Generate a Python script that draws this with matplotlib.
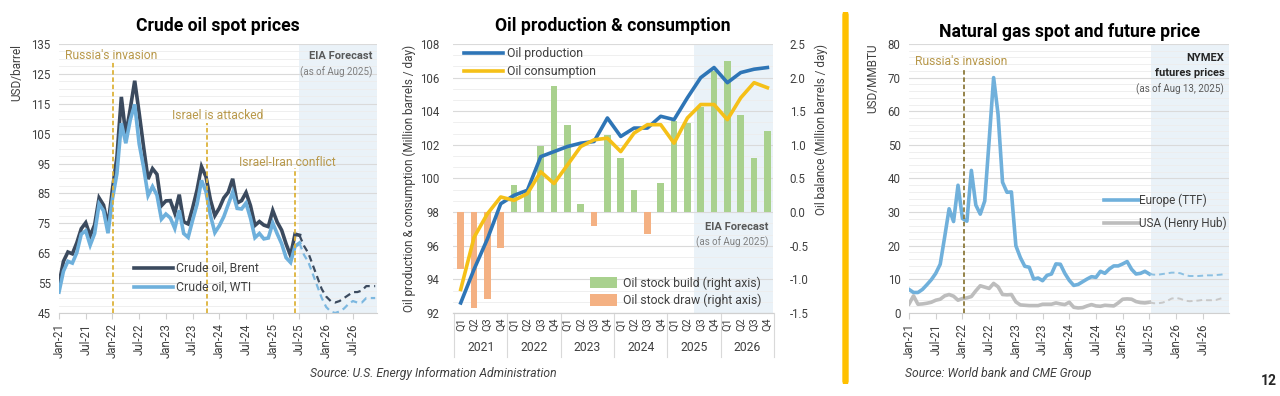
import numpy as np
import matplotlib
matplotlib.use("Agg")
import matplotlib.pyplot as plt
from matplotlib.patches import FancyBboxPatch
import matplotlib.transforms as mtransforms

plt.rcParams['font.family'] = ['Roboto', 'DejaVu Sans']
plt.rcParams['axes.unicode_minus'] = False

# ---------------- data ----------------
# monthly, Jan-21 .. Dec-26 (index 0..71), actual up to Jul-25 (index 54)
brent_actual = [54.8, 62.3, 65.4, 64.8, 68.5, 73.2, 75.2, 70.8, 74.5, 83.5, 81.1, 74.2,
                86.5, 97.1, 117.3, 104.6, 113.3, 122.7, 111.9, 100.5, 89.8, 93.3, 91.4, 80.9,
                82.5, 82.6, 78.4, 84.6, 75.5, 74.8, 80.1, 86.2, 94.0, 90.6, 82.9, 77.6,
                80.1, 83.5, 85.4, 89.9, 81.8, 82.6, 85.3, 80.9, 74.3, 75.6, 74.4, 73.9,
                79.3, 75.4, 72.7, 68.1, 64.2, 71.4, 71.0]
brent_forecast = [67.5, 65.0, 61.0, 57.0, 53.0, 50.5, 49.0, 48.5, 49.0, 50.0, 51.0, 52.0,
                  52.0, 52.5, 54.0, 54.0, 54.0]
wti_actual = [52.0, 59.0, 62.3, 61.7, 65.2, 71.4, 72.5, 67.7, 71.6, 81.5, 79.2, 71.7,
              83.2, 91.6, 108.5, 101.8, 109.6, 114.8, 101.6, 93.7, 84.3, 87.3, 84.4, 76.4,
              78.1, 76.8, 73.3, 79.4, 71.6, 70.3, 76.0, 81.4, 89.4, 85.6, 77.7, 71.9,
              74.2, 77.2, 81.3, 85.4, 80.0, 79.8, 81.8, 76.7, 70.2, 71.6, 69.8, 70.1,
              75.1, 71.5, 68.2, 63.5, 61.9, 67.3, 68.4]
wti_forecast = [64.5, 62.0, 58.0, 54.0, 50.0, 47.0, 45.5, 45.0, 45.5, 46.5, 48.0, 49.0,
                48.5, 48.5, 50.0, 50.0, 50.0]

ttf_actual = [7.0, 6.1, 6.1, 7.0, 8.4, 9.9, 11.8, 14.5, 22.6, 31.0, 27.2, 38.0,
              28.1, 27.3, 42.4, 32.1, 29.4, 33.3, 51.4, 70.0, 59.1, 38.9, 35.9, 36.0,
              20.0, 16.5, 13.9, 13.6, 10.1, 10.4, 9.6, 11.2, 11.6, 14.6, 14.5, 11.8,
              9.7, 8.2, 8.5, 9.3, 10.1, 10.8, 10.6, 12.4, 11.8, 13.1, 14.0, 14.0,
              14.6, 15.3, 13.0, 11.6, 11.8, 12.4, 11.6]
ttf_forecast = [11.4, 11.4, 11.6, 11.8, 12.0, 12.0, 11.8, 11.3, 11.0, 11.0, 11.0, 11.1,
                11.2, 11.2, 11.3, 11.4, 11.6]
hh_actual = [2.7, 5.1, 2.6, 2.7, 2.9, 3.2, 3.8, 4.1, 5.1, 5.5, 5.0, 3.8,
             4.3, 4.5, 4.9, 6.6, 8.1, 7.7, 7.3, 8.8, 7.8, 5.5, 5.4, 5.5,
             3.3, 2.4, 2.3, 2.2, 2.2, 2.2, 2.6, 2.6, 2.6, 3.0, 2.7, 2.5,
             3.2, 1.7, 1.5, 1.6, 2.1, 2.5, 2.1, 2.0, 2.3, 2.2, 2.1, 3.0,
             4.1, 4.2, 4.1, 3.4, 3.1, 3.0, 3.2]
hh_forecast = [2.9, 2.9, 3.1, 3.6, 4.3, 4.5, 4.2, 3.7, 3.5, 3.6, 3.7, 3.9,
               3.8, 3.8, 3.9, 4.3, 4.6]

month_ticks = ["Jan-21", "Jul-21", "Jan-22", "Jul-22", "Jan-23", "Jul-23",
               "Jan-24", "Jul-24", "Jan-25", "Jul-25", "Jan-26", "Jul-26"]

# quarterly, Q1-2021 .. Q4-2026
years = ["2021", "2022", "2023", "2024", "2025", "2026"]
quarters = ["Q1", "Q2", "Q3", "Q4"] * 6
production = [92.6, 94.6, 96.4, 98.5, 99.0, 99.3, 101.3, 101.6, 101.9, 102.1, 102.2, 103.6,
              102.5, 103.0, 103.0, 103.7, 103.5, 104.8, 106.0, 106.6, 105.7, 106.3, 106.5, 106.6]
consumption = [93.4, 96.5, 97.9, 98.9, 98.7, 99.1, 100.4, 99.7, 100.8, 101.9, 102.3, 102.4,
               101.6, 102.7, 103.2, 103.2, 102.1, 103.6, 104.4, 104.4, 103.5, 104.8, 105.7, 105.4]
balance = [-0.85, -1.43, -1.29, -0.53, 0.41, 0.33, 0.98, 1.88, 1.30, 0.12, -0.21, 1.14,
           0.80, 0.33, -0.33, 0.43, 1.35, 1.32, 1.56, 2.10, 2.24, 1.45, 0.81, 1.20]

# ---------------- styles ----------------
GRID_MAJ = "#DADADA"
GRID_MIN = "#EDEDED"
SHADE = "#EAF2F8"
TXT = "#404040"
GOLD_TXT = "#B8984A"
GOLD_LINE = "#DDB33A"
TITLE_FS = 12.7

fig = plt.figure(figsize=(12.8, 3.96), dpi=100)


def style_axis(ax):
    for s in ["top", "right", "left"]:
        ax.spines[s].set_visible(False)
    ax.spines["bottom"].set_color("#D0D0D0")
    ax.tick_params(axis="y", length=0, labelsize=8.3, colors=TXT, pad=6)
    ax.tick_params(axis="x", length=4, color="#D0D0D0", labelsize=8.3, colors=TXT)
    ax.set_axisbelow(True)


def month_axis(ax, n):
    ax.set_xlim(0, n - 0.6)
    ax.set_xticks(np.arange(0, n, 6))
    ax.set_xticklabels(month_ticks, rotation=90)


# ---------------- crude oil ----------------
ax1 = fig.add_axes([0.0461, 0.2096, 0.2484, 0.6793])
style_axis(ax1)
n = len(brent_actual) + len(brent_forecast)
xa = np.arange(len(brent_actual))
xf = np.arange(len(brent_actual) - 1, n)
ax1.axvspan(len(brent_actual) - 1, n, color=SHADE, zorder=0, lw=0)
ax1.plot(xa, brent_actual, color="#3B4A5E", lw=2.6, solid_joinstyle="miter", label="Crude oil, Brent")
ax1.plot(xa, wti_actual, color="#6EB0DC", lw=2.6, solid_joinstyle="miter", label="Crude oil, WTI")
ax1.plot(xf, [brent_actual[-1]] + brent_forecast, color="#3B4A5E", lw=1.6, ls=(0, (3, 2)))
ax1.plot(xf, [wti_actual[-1]] + wti_forecast, color="#7DB8E0", lw=1.6, ls=(0, (3, 2)))
ax1.set_ylim(45, 135)
ax1.set_yticks(np.arange(45, 136, 10))
ax1.set_yticks(np.arange(45, 135, 2.5), minor=True)
ax1.grid(axis="y", which="major", color=GRID_MAJ, lw=0.8)
ax1.grid(axis="y", which="minor", color=GRID_MIN, lw=0.6)
ax1.tick_params(axis="y", which="minor", length=0)
month_axis(ax1, n)
ax1.set_ylabel("USD/barrel", fontsize=8.5, color=TXT, loc="top", labelpad=6)

events = [(12.1, 129, "Russia's invasion", 1.3, 131, "left"),
          (33.3, 108.5, "Israel is attacked", 25.3, 111, "left"),
          (53.0, 93.5, "Israel-Iran conflict", 40.5, 95.5, "left")]
for ex, top, label, tx, ty, ha in events:
    ax1.plot([ex, ex], [45, top], color=GOLD_LINE, lw=1.3, ls=(0, (2.5, 1.5)), zorder=3)
    ax1.text(tx, ty, label, color=GOLD_TXT, fontsize=8.7, ha=ha, va="center")
ax1.text(0.985, 0.975, "EIA Forecast", transform=ax1.transAxes, ha="right", va="top",
         fontsize=8, fontweight="bold", color="#595959")
ax1.text(0.985, 0.918, "(as of Aug 2025)", transform=ax1.transAxes, ha="right", va="top",
         fontsize=7, color="#7F7F7F")
ax1.legend(loc="lower left", bbox_to_anchor=(0.2, 0.03), frameon=False, fontsize=8.8,
           handlelength=3.2, handletextpad=0.3, labelspacing=0.5, labelcolor=TXT)
ax1.set_title("Crude oil spot prices", fontsize=TITLE_FS, fontweight="bold", pad=9)

# ---------------- oil production & consumption ----------------
axm = fig.add_axes([0.3539, 0.2096, 0.25, 0.6793])
axb = axm.twinx()
axm.set_zorder(axb.get_zorder() + 1)
axm.patch.set_visible(False)
style_axis(axm)
style_axis(axb)
q = np.arange(len(production))
axb.axvspan(17.5, 24, color=SHADE, zorder=0, lw=0)
bal = np.array(balance)
axb.bar(q[bal >= 0], bal[bal >= 0], width=0.5, color="#A9D18E", label="Oil stock build (right axis)", zorder=2)
axb.bar(q[bal < 0], bal[bal < 0], width=0.5, color="#F4B183", label="Oil stock draw (right axis)", zorder=2)
axb.set_ylim(-1.5, 2.5)
axb.set_yticks(np.arange(-1.5, 2.51, 0.5))
axb.set_yticks(np.arange(-1.5, 2.5, 0.5 / 3), minor=True)
axb.yaxis.set_major_formatter(matplotlib.ticker.FormatStrFormatter("%.1f"))
axb.grid(axis="y", which="major", color=GRID_MAJ, lw=0.8)
axb.grid(axis="y", which="minor", color=GRID_MIN, lw=0.6)
axb.tick_params(axis="y", which="minor", length=0)
axb.tick_params(axis="y", pad=12)
axb.set_ylabel("Oil balance (Million barrels / day)", fontsize=8.5, color=TXT, loc="top", labelpad=4)

axm.plot(q, production, color="#2E75B6", lw=2.6, label="Oil production", zorder=4)
axm.plot(q, consumption, color="#F5C018", lw=2.6, label="Oil consumption", zorder=4)
axm.set_ylim(92, 108)
axm.set_yticks(np.arange(92, 109, 2))
axm.set_xlim(-0.58, 23.42)
axm.set_xticks(q)
axm.set_xticklabels(quarters, rotation=90, fontsize=7.8)
axm.tick_params(axis="x", length=0, pad=3)
axm.tick_params(axis="y", pad=10)
axm.set_ylabel("Oil production & consumption (Million barrels / day)", fontsize=8.5, color=TXT, labelpad=3)
trans = mtransforms.blended_transform_factory(axm.transData, axm.transAxes)
for i, yr in enumerate(years):
    axm.text(i * 4 + 1.5, -0.128, yr, transform=trans, ha="center", va="center", fontsize=8.7, color=TXT)
for b in np.arange(-0.5, 24, 4):
    axm.plot([b, b], [0, -0.165], transform=trans, color="#D9D9D9", lw=0.8, clip_on=False)
axm.legend(loc="upper left", bbox_to_anchor=(0.0, 1.03), frameon=False, fontsize=8.8,
           handlelength=3.2, handletextpad=0.3, labelspacing=0.45, labelcolor=TXT)
axb.legend(loc="lower right", bbox_to_anchor=(1.0, -0.02), frameon=False, fontsize=8.8,
           handlelength=2.2, handleheight=1.1, handletextpad=0.5, labelspacing=0.35, labelcolor=TXT)
axm.text(0.985, 0.34, "EIA Forecast", transform=axm.transAxes, ha="right", va="top",
         fontsize=8, fontweight="bold", color="#595959")
axm.text(0.985, 0.285, "(as of Aug 2025)", transform=axm.transAxes, ha="right", va="top",
         fontsize=7, color="#7F7F7F")
axm.set_title("Oil production & consumption", fontsize=TITLE_FS, fontweight="bold", pad=9)

# ---------------- natural gas ----------------
ax3 = fig.add_axes([0.7102, 0.2096, 0.25, 0.6793])
style_axis(ax3)
n3 = len(ttf_actual) + len(ttf_forecast)
xa3 = np.arange(len(ttf_actual))
xf3 = np.arange(len(ttf_actual) - 1, n3)
ax3.axvspan(len(ttf_actual) - 0.6, n3, color=SHADE, zorder=0, lw=0)
ax3.plot(xa3, ttf_actual, color="#70B0DB", lw=2.6, label="Europe (TTF)")
ax3.plot(xa3, hh_actual, color="#BDBDBD", lw=2.6, label="USA (Henry Hub)")
ax3.plot(xf3, [ttf_actual[-1]] + ttf_forecast, color="#8CC0E2", lw=1.4, ls=(0, (3, 2)))
ax3.plot(xf3, [hh_actual[-1]] + hh_forecast, color="#C8C8C8", lw=1.4, ls=(0, (3, 2)))
ax3.set_ylim(0, 80)
ax3.set_yticks(np.arange(0, 81, 10))
ax3.set_yticks(np.arange(0, 80, 2), minor=True)
ax3.grid(axis="y", which="major", color=GRID_MAJ, lw=0.8)
ax3.grid(axis="y", which="minor", color=GRID_MIN, lw=0.6)
ax3.tick_params(axis="y", which="minor", length=0)
month_axis(ax3, n3)
ax3.set_xlim(0, n3 - 0.1)
ax3.set_ylabel("USD/MMBTU", fontsize=8.5, color=TXT, loc="top", labelpad=6)
ax3.plot([12.4, 12.4], [0, 72.5], color="#8C7A3C", lw=1.3, ls=(0, (2.5, 1.5)), zorder=3)
ax3.text(1.3, 74.8, "Russia's invasion", color=GOLD_TXT, fontsize=8.7, ha="left", va="center")
ax3.text(0.985, 0.965, "NYMEX", transform=ax3.transAxes, ha="right", va="top",
         fontsize=8, fontweight="bold", color="#262626")
ax3.text(0.985, 0.91, "futures prices", transform=ax3.transAxes, ha="right", va="top",
         fontsize=8, fontweight="bold", color="#262626")
ax3.text(0.985, 0.855, "(as of Aug 13, 2025)", transform=ax3.transAxes, ha="right", va="top",
         fontsize=7, color="#595959")
ax3.legend(loc="lower left", bbox_to_anchor=(0.575, 0.27), frameon=False, fontsize=8.5,
           handlelength=3.0, handletextpad=0.0, labelspacing=0.8, labelcolor=TXT)
ax3.set_title("Natural gas spot and future price", fontsize=TITLE_FS, fontweight="bold", pad=5)

# ---------------- decorations ----------------
fig.patches.append(FancyBboxPatch((843 / 1280, 13 / 396), 5 / 1280, 370 / 396,
                                  boxstyle="round,pad=0,rounding_size=0.004",
                                  transform=fig.transFigure, color="#FFC000", zorder=5))
fig.text(433 / 1280, 1 - 373 / 396, "Source: U.S. Energy Information Administration",
         ha="center", va="center", fontsize=8.7, style="italic", color=TXT)
fig.text(905 / 1280, 1 - 373 / 396, "Source: World bank and CME Group",
         ha="left", va="center", fontsize=8.7, style="italic", color=TXT)
fig.text(1277 / 1280, 1 - 381 / 396, "12", ha="right", va="center", fontsize=10,
         fontweight="bold", color="#262626")

fig.savefig("out.png", dpi=100)
